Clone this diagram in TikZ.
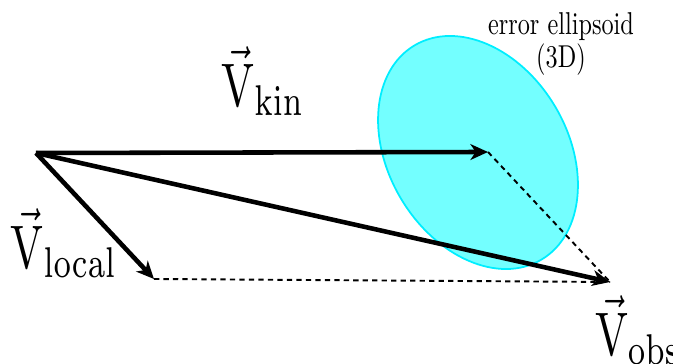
\documentclass[tikz,border=0pt]{standalone}
\usepackage{amsmath}
\usepackage{graphicx}
\usetikzlibrary{arrows.meta}
\definecolor{ellipsefill}{RGB}{115,255,255}
\definecolor{ellipseline}{RGB}{0,238,255}
\newcommand{\biglabel}[1]{\scalebox{2.5}[3.5]{#1}}
\newcommand{\notelabel}[1]{\scalebox{1.38}[1.8]{#1}}
\begin{document}
\begin{tikzpicture}[x=0.02cm, y=0.02cm,
  vec/.style={line width=2.6pt, -{Stealth[length=10pt, width=9pt, inset=3pt]}},
  guide/.style={line width=1.1pt, dash pattern=on 3pt off 2.4pt},
  vlabel/.style={inner sep=0pt},
  note/.style={inner sep=0pt, align=center},
  blob/.style={fill=ellipsefill, draw=ellipseline, line width=1pt}
]
  \useasboundingbox (0,0) rectangle (673,364);
  \coordinate (origin) at (36,211);
  \coordinate (kin) at (488,212);
  \coordinate (local) at (154,85);
  \coordinate (obs) at (610,82);

  \fill[blob] (478,211.5) ellipse [x radius=89.8, y radius=124.5, rotate=30.6];

  \draw[guide] (local) -- (obs);
  \draw[guide] (kin) -- (obs);
  \draw[vec] (origin) -- (kin);
  \draw[vec] (origin) -- (obs);
  \draw[vec] (origin) -- (local);

  \node[vlabel] (kinlabel) at (263,283) {\biglabel{$\vec{\mathrm{V}}_{\mathrm{kin}}$}};
  \node[vlabel] (locallabel) at (64,121) {\biglabel{$\vec{\mathrm{V}}_{\mathrm{local}}$}};
  \node[vlabel] (obslabel) at (638,34) {\biglabel{$\vec{\mathrm{V}}_{\mathrm{obs}}$}};
  \node[note] (ellipsenote) at (561,320) {\notelabel{error ellipsoid}\\[1pt]\notelabel{(3D)}};
\end{tikzpicture}
\end{document}
